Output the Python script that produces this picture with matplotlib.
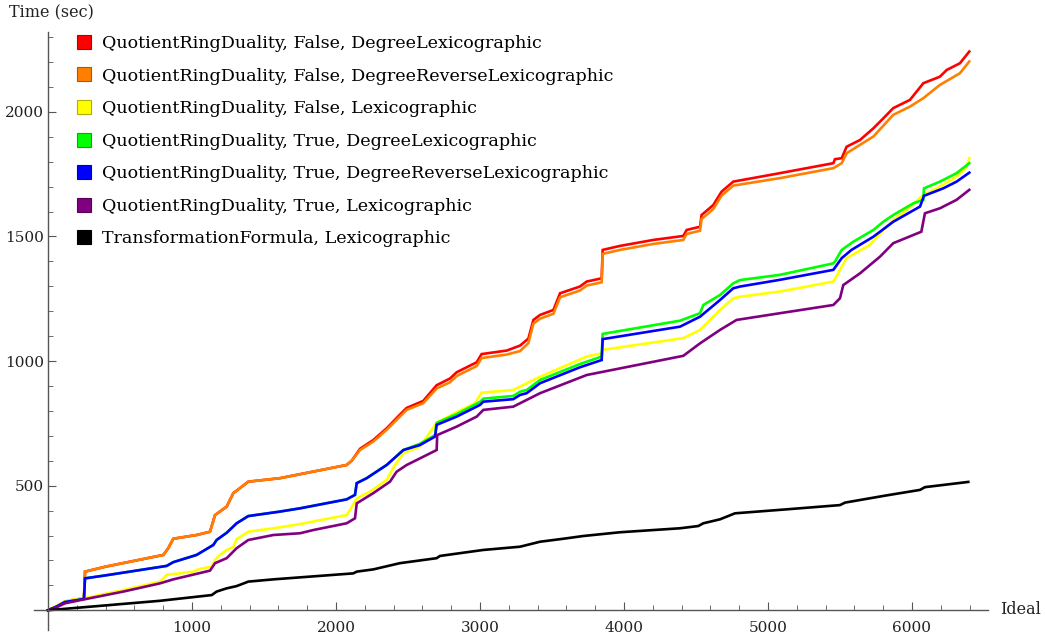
import numpy as np
import matplotlib
matplotlib.use('Agg')
import matplotlib.pyplot as plt
from matplotlib.lines import Line2D

plt.rcParams['font.family'] = ['DejaVu Serif']

labels = ['QuotientRingDuality, False, DegreeLexicographic',
          'QuotientRingDuality, False, DegreeReverseLexicographic',
          'QuotientRingDuality, False, Lexicographic',
          'QuotientRingDuality, True, DegreeLexicographic',
          'QuotientRingDuality, True, DegreeReverseLexicographic',
          'QuotientRingDuality, True, Lexicographic',
          'TransformationFormula, Lexicographic']
colors = ['#ff0000', '#ff8000', '#ffff00', '#00ff00', '#0000ff', '#800080', '#000000']
edge_colors = ['#b00000', '#b05800', '#b0b000', '#00b000', '#0000b0', '#580058', '#000000']

# orange: QRD, False, DegRevLex
orange_x = [0, 60, 118, 245, 250, 257, 400, 801, 835, 870, 1032, 1125, 1160, 1241, 1287, 1333, 1391,
            1611, 2074, 2109, 2167, 2259, 2352, 2444, 2491, 2606, 2699, 2792, 2838, 2977, 3011, 3185,
            3278, 3336, 3371, 3417, 3510, 3556, 3694, 3741, 3845, 3852, 3972, 4204, 4412, 4435, 4528,
            4539, 4620, 4678, 4759, 5083, 5454, 5512, 5546, 5732, 5870, 5986, 6079, 6194, 6333, 6398]
orange_y = [0, 15, 35, 48, 50, 155, 175, 222, 249, 287, 302, 315, 382, 416, 470, 490, 516,
            530, 583, 600, 643, 677, 724, 777, 804, 831, 890, 915, 940, 980, 1012, 1026,
            1040, 1072, 1150, 1170, 1190, 1256, 1283, 1303, 1316, 1430, 1446, 1470, 1486, 1510, 1523,
            1570, 1610, 1664, 1704, 1734, 1774, 1794, 1834, 1901, 1988, 2021, 2055, 2108, 2155, 2202]

# red: QRD, False, DegLex
red_x = [0, 60, 118, 245, 250, 257, 400, 801, 835, 870, 1032, 1125, 1160, 1241, 1287, 1333, 1391,
         1611, 2074, 2109, 2167, 2259, 2352, 2444, 2491, 2606, 2699, 2792, 2838, 2977, 3011, 3185,
         3278, 3336, 3371, 3417, 3510, 3556, 3694, 3741, 3845, 3852, 3972, 4204, 4412, 4435, 4528,
         4539, 4620, 4678, 4759, 5083, 5454, 5465, 5512, 5546, 5639, 5732, 5801, 5870, 5986, 6079,
         6194, 6241, 6333, 6398]
red_y = [0, 15, 35, 48, 50, 155, 175, 222, 249, 287, 302, 315, 382, 416, 470, 490, 516,
         530, 583, 600, 648, 683, 730, 785, 812, 840, 903, 930, 955, 995, 1028, 1042,
         1062, 1090, 1165, 1185, 1205, 1272, 1299, 1319, 1332, 1446, 1462, 1486, 1502, 1526, 1539,
         1586, 1626, 1680, 1720, 1754, 1794, 1810, 1814, 1860, 1887, 1934, 1974, 2015, 2048, 2115,
         2141, 2168, 2195, 2242]

# yellow: QRD, False, Lex
yellow_x = [0, 60, 118, 153, 245, 523, 778, 824, 1009, 1056, 1137, 1160, 1194, 1241, 1287, 1310, 1391,
            1611, 1750, 2074, 2097, 2144, 2236, 2352, 2410, 2468, 2583, 2699, 2838, 2965, 3011, 3231,
            3417, 3741, 3845, 3852, 4412, 4528, 4667, 4759, 4806, 5083, 5454, 5477, 5512, 5546, 5708,
            5801, 5870, 5963, 6079, 6194, 6310, 6380, 6398]
yellow_y = [0, 18, 35, 41, 48, 81, 115, 142, 155, 166, 175, 202, 222, 242, 255, 285, 315,
            333, 346, 382, 402, 449, 476, 523, 583, 630, 657, 752, 795, 831, 873, 884,
            937, 1018, 1031, 1045, 1092, 1125, 1205, 1252, 1258, 1279, 1319, 1341, 1379, 1413, 1466,
            1526, 1566, 1606, 1667, 1700, 1740, 1780, 1814]

# green: QRD, True, DegLex
green_x = [0, 60, 118, 245, 250, 257, 400, 824, 870, 1032, 1148, 1171, 1241, 1310, 1391, 1611, 1750,
           2074, 2132, 2144, 2213, 2352, 2468, 2583, 2688, 2699, 2838, 3000, 3023, 3231, 3278, 3324,
           3417, 3694, 3845, 3852, 4389, 4528, 4551, 4667, 4759, 4806, 5083, 5454, 5465, 5512, 5593,
           5732, 5801, 5870, 6009, 6079, 6083, 6194, 6310, 6398]
green_y = [0, 15, 33, 45, 46, 128, 140, 178, 193, 222, 262, 282, 311, 349, 378, 396, 409,
           445, 463, 510, 530, 583, 643, 668, 703, 752, 787, 836, 849, 860, 877, 884,
           924, 988, 1018, 1109, 1162, 1192, 1225, 1265, 1312, 1325, 1346, 1392, 1399, 1446, 1479,
           1526, 1559, 1586, 1633, 1647, 1693, 1720, 1754, 1794]

# blue: QRD, True, DegRevLex
blue_x = [0, 60, 118, 245, 250, 257, 400, 824, 870, 1032, 1148, 1171, 1241, 1310, 1391, 1611, 1750,
          2074, 2132, 2144, 2213, 2352, 2468, 2583, 2688, 2699, 2838, 3000, 3023, 3231, 3278, 3324,
          3417, 3694, 3845, 3852, 4389, 4528, 4667, 4759, 4806, 5083, 5454, 5512, 5580, 5732, 5870,
          6056, 6083, 6217, 6310, 6398]
blue_y = [0, 15, 33, 45, 46, 128, 140, 178, 193, 222, 262, 282, 311, 349, 378, 396, 409,
          445, 463, 510, 530, 583, 643, 663, 697, 744, 777, 824, 837, 847, 864, 871,
          911, 975, 1004, 1088, 1138, 1178, 1245, 1292, 1299, 1326, 1366, 1413, 1446, 1499, 1559,
          1620, 1663, 1693, 1720, 1756]

# purple: QRD, True, Lex
purple_x = [0, 60, 118, 245, 523, 778, 870, 1125, 1160, 1241, 1310, 1391, 1565, 1750, 1843, 2074, 2132,
            2144, 2259, 2375, 2421, 2491, 2630, 2699, 2703, 2838, 2977, 3023, 3231, 3417, 3741, 4412,
            4528, 4667, 4782, 5083, 5454, 5500, 5523, 5639, 5778, 5870, 6065, 6090, 6194, 6310, 6398]
purple_y = [0, 12, 28, 43, 75, 108, 124, 159, 189, 209, 249, 282, 302, 309, 322, 349, 369,
            429, 470, 516, 556, 583, 623, 643, 703, 737, 777, 804, 817, 871, 944, 1021,
            1071, 1125, 1165, 1192, 1225, 1252, 1305, 1352, 1419, 1473, 1519, 1593, 1613, 1647, 1687]

# black: TransformationFormula, Lex
black_x = [0, 778, 1137, 1171, 1241, 1310, 1391, 1565, 2120, 2144, 2259, 2444, 2699, 2722, 3023, 3278,
           3417, 3579, 3718, 3972, 4389, 4516, 4551, 4667, 4771, 5130, 5500, 5535, 5824, 6056, 6090, 6391]
black_y = [0, 38, 61, 75, 88, 97, 115, 124, 148, 155, 164, 189, 209, 218, 242, 255,
           275, 287, 298, 313, 329, 338, 349, 365, 389, 405, 422, 432, 461, 483, 494, 515]

series = [(red_x, red_y), (orange_x, orange_y), (yellow_x, yellow_y), (green_x, green_y),
          (blue_x, blue_y), (purple_x, purple_y), (black_x, black_y)]

fig = plt.figure(figsize=(10.45, 6.39), dpi=100)
ax = fig.add_axes([33.6 / 1045, 1 - 630.2 / 639, (988.3 - 33.6) / 1045, (630.2 - 32.1) / 639])

for (x, y), c in zip(series, colors):
    ax.plot(x, y, color=c, lw=1.9, solid_joinstyle='miter')

ax.set_xlim(-100, 6530)
ax.set_ylim(-80, 2320)
for s in ['top', 'right']:
    ax.spines[s].set_visible(False)
for s in ['left', 'bottom']:
    ax.spines[s].set_position(('data', 0))
    ax.spines[s].set_color('#555555')
    ax.spines[s].set_linewidth(1.0)

ax.set_xticks([1000, 2000, 3000, 4000, 5000, 6000])
ax.set_xticks(np.arange(200, 6401, 200), minor=True)
ax.set_yticks([500, 1000, 1500, 2000])
ax.set_yticks(np.arange(100, 2301, 100), minor=True)
ax.tick_params(which='both', direction='in', color='#555555', labelsize=11, labelcolor='#222222')
ax.tick_params(which='major', length=6)
ax.tick_params(which='minor', length=3.5)
ax.tick_params(axis='x', pad=8)
ax.tick_params(axis='y', pad=3)

fig.text(9 / 1045, 1 - 13 / 639, 'Time (sec)', fontsize=11.5, va='center', ha='left', color='#222222')
fig.text(1000 / 1045, 1 - 610 / 639, 'Ideal', fontsize=11.5, va='center', ha='left', color='#222222')

handles = [Line2D([], [], marker='s', linestyle='none', markersize=10,
                  markerfacecolor=c, markeredgecolor=e, markeredgewidth=0.8)
           for c, e in zip(colors, edge_colors)]
ax.legend(handles, labels, loc='upper left', bbox_to_anchor=(76 / 1045, 1 - 35 / 639),
          bbox_transform=fig.transFigure, frameon=False, fontsize=12.6,
          handlelength=0.95, handletextpad=0.55, labelspacing=0.89, borderpad=0, borderaxespad=0)

fig.savefig('out.png', dpi=100)
